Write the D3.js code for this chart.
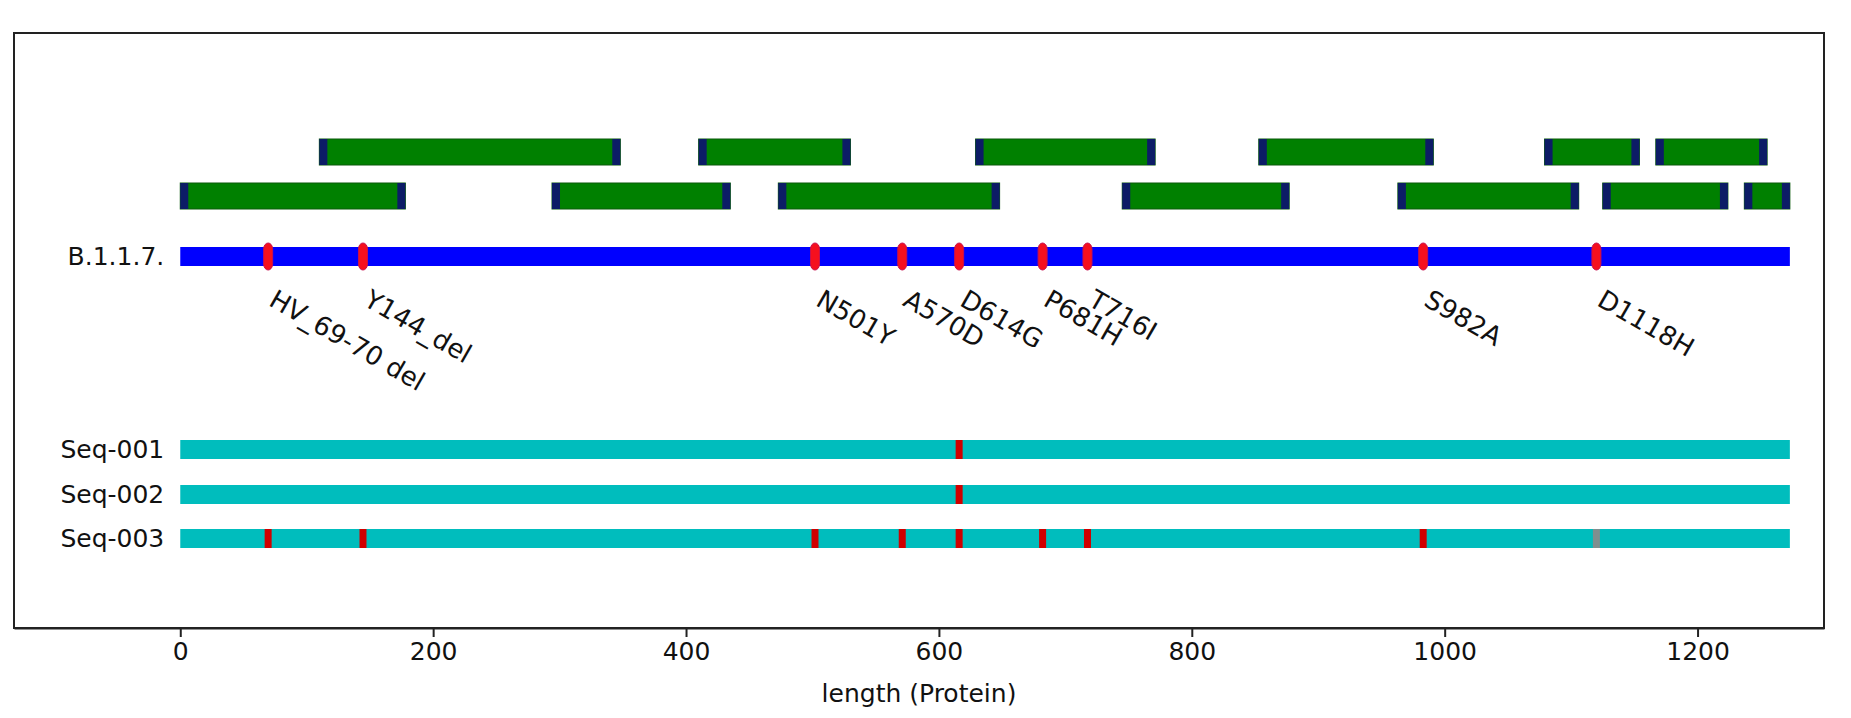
<!DOCTYPE html>
<html>
<head>
<meta charset="utf-8">
<script src="https://cdn.jsdelivr.net/npm/d3@7/dist/d3.min.js"></script>
<style>
  html, body { margin: 0; padding: 0; background: #fff; }
  svg { display: block; font-family: "DejaVu Sans", Verdana, sans-serif; }
</style>
</head>
<body>
<svg id="chart" width="1851" height="718"></svg>
<script>
// ---------------- data ----------------
const proteinLength = 1273;
const xTicks = [0, 200, 400, 600, 800, 1000, 1200];
const xLabel = "length (Protein)";

// amplicon / fragment bars (two staggered rows)
const upperStart = [110, 410, 629, 853, 1079, 1167];
const upperEnd   = [348, 530, 771, 991, 1154, 1255];
const lowerStart = [0, 294, 473, 745, 963, 1125, 1237];
const lowerEnd   = [178, 435, 648, 877, 1106, 1224, 1273];

// reference lineage and its mutations
const refName = "B.1.1.7.";
const mutationNames = ["HV_69-70 del", "Y144_del", "N501Y", "A570D", "D614G", "P681H", "T716I", "S982A", "D1118H"];
const mutationPos   = [69.5, 144.5, 502, 571, 616, 682, 717.5, 983, 1120];

// sequences
const seqNames = ["Seq-001", "Seq-002", "Seq-003"];
const seqFound = [[616], [616], [69.5, 144.5, 502, 571, 616, 682, 717.5, 983]];
const seqUnknown = [[], [], [1120]];

// ---------------- layout ----------------
const W = 1851, H = 718;
const frame = { left: 14, top: 33, right: 1824, bottom: 628 };
const rows = { upper: 152, lower: 196, ref: 256.5, seq: [449.5, 494.5, 538.5] };
const ampH = 26, trackH = 19, capW = 8;

const svg = d3.select("#chart");
const x = d3.scaleLinear().domain([-131.5, 1300]).range([frame.left, frame.right]);

// frame
svg.append("rect")
  .attr("x", frame.left).attr("y", frame.top)
  .attr("width", frame.right - frame.left).attr("height", frame.bottom - frame.top)
  .attr("fill", "none").attr("stroke", "#222").attr("stroke-width", 2);

// x axis
const axis = d3.axisBottom(x).tickValues(xTicks).tickSizeInner(9).tickSizeOuter(0)
  .tickPadding(5).tickFormat(d3.format("d"));
const gAxis = svg.append("g").attr("transform", `translate(0,${frame.bottom})`).call(axis);
gAxis.select(".domain").attr("stroke", "#222").attr("stroke-width", 2);
gAxis.selectAll(".tick line").attr("stroke", "#222").attr("stroke-width", 2);
gAxis.selectAll(".tick text").attr("font-size", 25).attr("fill", "#111")
  .attr("font-family", "DejaVu Sans, sans-serif");

svg.append("text")
  .attr("x", (frame.left + frame.right) / 2).attr("y", 702)
  .attr("text-anchor", "middle").attr("font-size", 25).attr("fill", "#111")
  .text(xLabel);

// amplicon bars
function drawAmplicons(starts, ends, cy) {
  const data = starts.map((s, i) => ({ s, e: ends[i] }));
  const g = svg.append("g");
  g.selectAll("rect.amp").data(data).join("rect")
    .attr("x", d => x(d.s)).attr("y", cy - ampH / 2)
    .attr("width", d => x(d.e) - x(d.s)).attr("height", ampH)
    .attr("fill", "#008000").attr("stroke", "#0a5a0a").attr("stroke-width", 1);
  g.selectAll("rect.capL").data(data).join("rect")
    .attr("x", d => x(d.s)).attr("y", cy - ampH / 2)
    .attr("width", capW).attr("height", ampH).attr("fill", "#0c1c66");
  g.selectAll("rect.capR").data(data).join("rect")
    .attr("x", d => x(d.e) - capW).attr("y", cy - ampH / 2)
    .attr("width", capW).attr("height", ampH).attr("fill", "#0c1c66");
}
drawAmplicons(upperStart, upperEnd, rows.upper);
drawAmplicons(lowerStart, lowerEnd, rows.lower);

// reference track
svg.append("rect")
  .attr("x", x(0)).attr("y", rows.ref - trackH / 2)
  .attr("width", x(proteinLength) - x(0)).attr("height", trackH)
  .attr("fill", "#0000ff");
svg.append("text")
  .attr("x", x(0) - 16).attr("y", rows.ref).attr("dy", "0.35em")
  .attr("text-anchor", "end").attr("font-size", 25).attr("fill", "#111")
  .text(refName);

svg.append("g").selectAll("rect").data(mutationPos).join("rect")
  .attr("x", d => x(d) - 4.5).attr("y", rows.ref - 13.5)
  .attr("width", 9).attr("height", 27).attr("rx", 4.5).attr("ry", 6)
  .attr("fill", "#f5101e").attr("stroke", "#c8104e").attr("stroke-width", 1);

// rotated mutation labels
svg.append("g").selectAll("text").data(mutationNames).join("text")
  .attr("transform", (d, i) => `translate(${x(mutationPos[i]) + 9},${288}) rotate(30)`)
  .attr("dy", "0.74em")
  .attr("font-size", 26).attr("fill", "#111")
  .text(d => d);

// sequence tracks
seqNames.forEach((name, i) => {
  const cy = rows.seq[i];
  svg.append("rect")
    .attr("x", x(0)).attr("y", cy - trackH / 2)
    .attr("width", x(proteinLength) - x(0)).attr("height", trackH)
    .attr("fill", "#00bdbd");
  svg.append("text")
    .attr("x", x(0) - 16).attr("y", cy).attr("dy", "0.35em")
    .attr("text-anchor", "end").attr("font-size", 25).attr("fill", "#111")
    .text(name);
  svg.append("g").selectAll("rect").data(seqFound[i]).join("rect")
    .attr("x", d => x(d) - 3.5).attr("y", cy - trackH / 2)
    .attr("width", 7).attr("height", trackH)
    .attr("fill", "#d00000");
  svg.append("g").selectAll("rect").data(seqUnknown[i]).join("rect")
    .attr("x", d => x(d) - 3.5).attr("y", cy - trackH / 2)
    .attr("width", 7).attr("height", trackH)
    .attr("fill", "#7f8f8f");
});
</script>
</body>
</html>
